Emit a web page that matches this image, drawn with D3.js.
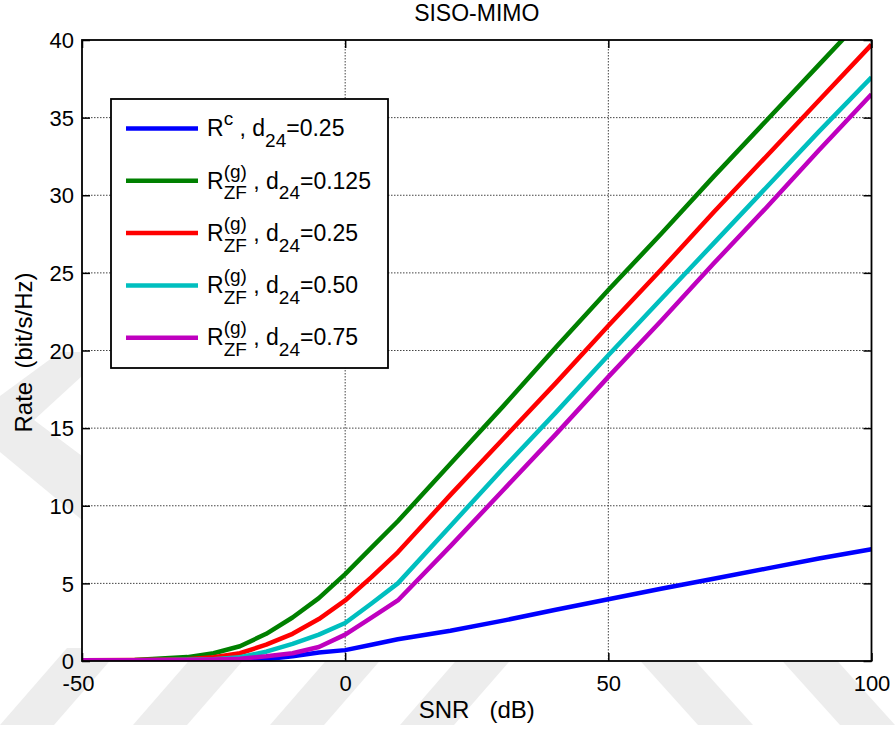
<!DOCTYPE html>
<html>
<head>
<meta charset="utf-8">
<script src="https://cdn.jsdelivr.net/npm/d3@7"></script>
<style>
  html, body { margin: 0; padding: 0; background: #fff; }
  svg text { font-family: "Liberation Sans", Arial, Helvetica, sans-serif; fill: #000; white-space: pre; }
</style>
</head>
<body>
<svg id="chart" width="895" height="731"></svg>
<script>
// SNR sample points (dB)
const snr = [-50, -40, -30, -25, -20, -15, -10, -5, 0, 5, 10, 20, 30, 40, 50, 60, 70, 80, 90, 100];

// Achievable rates (bit/s/Hz)
const rateC_d025   = [0.02, 0.02, 0.03, 0.04, 0.06, 0.12, 0.30, 0.55, 0.70, 1.05, 1.40, 1.95, 2.60, 3.30, 3.98, 4.65, 5.30, 5.95, 6.60, 7.20];
const rateZF_d0125 = [0.05, 0.07, 0.25, 0.50, 0.95, 1.75, 2.80, 4.05, 5.60, 7.30, 9.00, 12.7, 16.4, 20.2, 23.9, 27.5, 31.2, 34.8, 38.4, 42.0];
const rateZF_d025  = [0.05, 0.06, 0.12, 0.25, 0.50, 1.05, 1.75, 2.70, 3.90, 5.40, 7.00, 10.7, 14.3, 17.9, 21.6, 25.2, 28.9, 32.5, 36.1, 39.7];
const rateZF_d050  = [0.05, 0.05, 0.08, 0.12, 0.25, 0.60, 1.10, 1.70, 2.45, 3.70, 5.00, 8.70, 12.4, 16.0, 19.7, 23.3, 26.9, 30.5, 34.1, 37.6];
const rateZF_d075  = [0.05, 0.05, 0.06, 0.10, 0.15, 0.30, 0.50, 0.90, 1.70, 2.80, 3.90, 7.40, 11.0, 14.6, 18.3, 21.9, 25.6, 29.2, 32.9, 36.5];

// Legend pieces: base symbol, superscript, subscript, d24 value
const legendBase  = ["R", "R", "R", "R", "R"];
const legendSup   = ["c", "(g)", "(g)", "(g)", "(g)"];
const legendSub   = ["", "ZF", "ZF", "ZF", "ZF"];
const legendD24   = ["0.25", "0.125", "0.25", "0.50", "0.75"];
const seriesColors = ["#0000ff", "#008000", "#ff0000", "#00bfbf", "#bf00bf"];

// Axis ticks and labels
const xTicks = [-50, 0, 50, 100];
const yTicks = [0, 5, 10, 15, 20, 25, 30, 35, 40];
const titleText = "SISO-MIMO";
const xLabelText = "SNR   (dB)";
const yLabelText = "Rate  (bit/s/Hz)";

const series = [rateC_d025, rateZF_d0125, rateZF_d025, rateZF_d050, rateZF_d075];

// ---- layout ----
const plot = { left: 82, top: 40, right: 871.5, bottom: 661 };

const svg = d3.select("#chart");

// faint background watermark bands (behind the axes area)
const bg = svg.append("g").attr("fill", "#ededed");
const slashBottoms = [0, 133, 270, 400];
slashBottoms.forEach(x0 => {
  const yb = 725, yt = 648, k = 0.87, w = 54;
  const s = (yb - yt) * k;
  bg.append("path").attr("d", `M${x0},${yb}L${x0 + w},${yb}L${x0 + w + s},${yt}L${x0 + s},${yt}Z`);
});
const backBottoms = [698, 840];
backBottoms.forEach(x0 => {
  const yb = 725, yt = 648, k = 0.9, w = 55;
  const s = (yb - yt) * k;
  bg.append("path").attr("d", `M${x0},${yb}L${x0 + w},${yb}L${x0 + w - s},${yt}L${x0 - s},${yt}Z`);
});
bg.append("path").attr("d", "M60,352L82,352L82,376L34,420L82,456L82,520L0,452L0,396Z");

// plot background
svg.append("rect")
  .attr("x", plot.left).attr("y", plot.top)
  .attr("width", plot.right - plot.left).attr("height", plot.bottom - plot.top)
  .attr("fill", "#fff");

const x = d3.scaleLinear().domain([-50, 100]).range([plot.left, plot.right]);
const y = d3.scaleLinear().domain([0, 40]).range([plot.bottom, plot.top]);

// grid
const grid = svg.append("g")
  .attr("stroke", "#444").attr("stroke-width", 1).attr("stroke-dasharray", "1.5,1.5");
xTicks.filter(t => t > -50 && t < 100).forEach(t => {
  grid.append("line").attr("x1", x(t)).attr("x2", x(t)).attr("y1", plot.top).attr("y2", plot.bottom);
});
yTicks.filter(t => t > 0 && t < 40).forEach(t => {
  grid.append("line").attr("x1", plot.left).attr("x2", plot.right).attr("y1", y(t)).attr("y2", y(t));
});

// clip for the curves
svg.append("defs").append("clipPath").attr("id", "plotClip")
  .append("rect")
  .attr("x", plot.left).attr("y", plot.top)
  .attr("width", plot.right - plot.left).attr("height", plot.bottom - plot.top);

const line = d3.line().x((d, i) => x(snr[i])).y(d => y(d));
const curves = svg.append("g").attr("clip-path", "url(#plotClip)");
series.forEach((vals, i) => {
  curves.append("path")
    .attr("d", line(vals))
    .attr("fill", "none")
    .attr("stroke", seriesColors[i])
    .attr("stroke-width", 4.5)
    .attr("stroke-linejoin", "round");
});

// axes (box with inward ticks on all sides)
const tickLen = 8;
const plain = d => String(d);
const axB = svg.append("g").attr("transform", `translate(0,${plot.bottom})`)
  .call(d3.axisBottom(x).tickValues(xTicks).tickSize(-tickLen).tickFormat(plain));
const axT = svg.append("g").attr("transform", `translate(0,${plot.top})`)
  .call(d3.axisTop(x).tickValues(xTicks).tickSize(-tickLen).tickFormat(""));
const axL = svg.append("g").attr("transform", `translate(${plot.left},0)`)
  .call(d3.axisLeft(y).tickValues(yTicks).tickSize(-tickLen).tickFormat(plain));
const axR = svg.append("g").attr("transform", `translate(${plot.right},0)`)
  .call(d3.axisRight(y).tickValues(yTicks).tickSize(-tickLen).tickFormat(""));

[axB, axT, axL, axR].forEach(a => {
  a.select(".domain").remove();
  a.selectAll(".tick line").attr("stroke", "#000").attr("stroke-width", 1.5);
  a.selectAll(".tick text").attr("font-size", 22).attr("fill", "#000")
    .style("font-family", '"Liberation Sans", Arial, sans-serif');
});
axB.selectAll(".tick text").attr("dy", null).attr("y", 30)
  .attr("dx", d => d < 0 ? -4 : 0);
axL.selectAll(".tick text").attr("dy", "0.35em").attr("x", -8);

svg.append("rect")
  .attr("x", plot.left).attr("y", plot.top)
  .attr("width", plot.right - plot.left).attr("height", plot.bottom - plot.top)
  .attr("fill", "none").attr("stroke", "#000").attr("stroke-width", 1.8);

// title and axis labels
svg.append("text").attr("x", (plot.left + plot.right) / 2).attr("y", 21)
  .attr("text-anchor", "middle").attr("font-size", 23).text(titleText);
svg.append("text").attr("x", (plot.left + plot.right) / 2).attr("y", 718)
  .attr("text-anchor", "middle").attr("font-size", 24).text(xLabelText);
svg.append("text")
  .attr("transform", `translate(32,${(plot.top + plot.bottom) / 2 + 2}) rotate(-90)`)
  .attr("text-anchor", "middle").attr("font-size", 24).text(yLabelText);

// legend
const leg = { x: 111, y: 99, w: 277, h: 269, first: 128.5, step: 52.3 };
const lg = svg.append("g");
lg.append("rect").attr("x", leg.x).attr("y", leg.y).attr("width", leg.w).attr("height", leg.h)
  .attr("fill", "#fff").attr("stroke", "#000").attr("stroke-width", 1.8);

const mainSize = 23, smallSize = 19;
function addText(tx, ty, str, size) {
  const t = lg.append("text").attr("x", tx).attr("y", ty).attr("font-size", size).text(str);
  return t.node().getComputedTextLength();
}
legendBase.forEach((base, i) => {
  const cy = leg.first + i * leg.step;
  lg.append("line").attr("x1", 126).attr("x2", 198).attr("y1", cy).attr("y2", cy)
    .attr("stroke", seriesColors[i]).attr("stroke-width", 4.5);
  let cx = 207;
  cx += addText(cx, cy + 7.7, base, mainSize);
  const wSup = addText(cx, cy - 3.3, legendSup[i], smallSize);
  const wSub = legendSub[i] ? addText(cx, cy + 18.5, legendSub[i], smallSize) : 0;
  cx += Math.max(wSup, wSub);
  cx += addText(cx, cy + 7.7, " , d", mainSize);
  cx += addText(cx, cy + 18.5, "24", smallSize);
  addText(cx, cy + 7.7, "=" + legendD24[i], mainSize);
});
</script>
</body>
</html>
